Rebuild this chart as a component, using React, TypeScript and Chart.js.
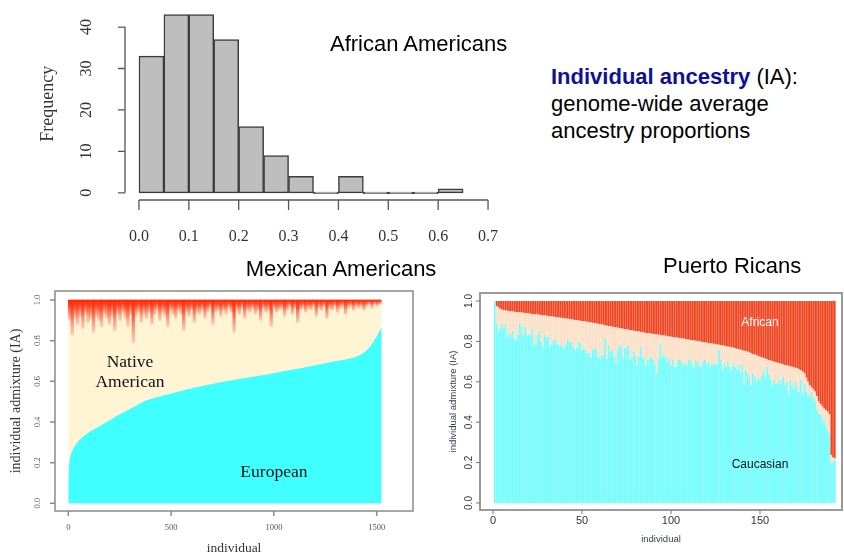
import React, { useEffect, useRef } from 'react';
import { Chart, registerables } from 'chart.js';

Chart.register(...registerables);

const SANS = '"Liberation Sans", Arial, sans-serif';
const SERIF = '"Liberation Serif", "Times New Roman", serif';

// ---------- African Americans histogram ----------
const histBinStarts = [0, 0.05, 0.1, 0.15, 0.2, 0.25, 0.3, 0.35, 0.4, 0.45, 0.5, 0.55, 0.6];
const histBinWidth = 0.05;
const histCounts = [33, 43, 43, 37, 16, 9, 4, 0, 4, 0, 0, 0, 1];
const histXTicks = [0, 0.1, 0.2, 0.3, 0.4, 0.5, 0.6, 0.7];
const histXTickLabels = ['0.0', '0.1', '0.2', '0.3', '0.4', '0.5', '0.6', '0.7'];
const histYTicks = [0, 10, 20, 30, 40];

// ---------- Mexican Americans ----------
const mxEuropeanIndividual = [0, 2, 5, 10, 18, 41, 73, 105, 154, 203, 251, 316, 365, 430, 511, 640, 802, 965, 1127, 1289, 1419, 1460, 1484, 1508, 1524];
const mxEuropeanShare = [0.1, 0.16, 0.2, 0.23, 0.255, 0.295, 0.328, 0.352, 0.38, 0.41, 0.438, 0.472, 0.5, 0.522, 0.543, 0.574, 0.606, 0.634, 0.664, 0.697, 0.73, 0.762, 0.795, 0.836, 0.869];
const mxLastIndividual = 1524;
const mxAfricanStep = 12.9;
const mxAfricanShare = [
  0.1, 0.17, 0.09, 0.12, 0.08, 0.14, 0.07, 0.11, 0.09, 0.16,
  0.08, 0.1, 0.13, 0.07, 0.09, 0.12, 0.08, 0.15, 0.07, 0.1,
  0.06, 0.09, 0.13, 0.07, 0.21, 0.08, 0.06, 0.11, 0.07, 0.09,
  0.06, 0.12, 0.07, 0.05, 0.1, 0.06, 0.08, 0.13, 0.05, 0.07,
  0.09, 0.05, 0.07, 0.15, 0.06, 0.08, 0.05, 0.11, 0.06, 0.07,
  0.05, 0.09, 0.06, 0.04, 0.12, 0.06, 0.05, 0.08, 0.05, 0.07,
  0.04, 0.06, 0.16, 0.05, 0.07, 0.04, 0.09, 0.05, 0.06, 0.04,
  0.07, 0.05, 0.1, 0.04, 0.06, 0.05, 0.13, 0.04, 0.06, 0.05,
  0.04, 0.08, 0.05, 0.03, 0.07, 0.04, 0.11, 0.05, 0.04, 0.06,
  0.04, 0.05, 0.03, 0.08, 0.04, 0.05, 0.03, 0.09, 0.04, 0.05,
  0.03, 0.06, 0.04, 0.03, 0.07, 0.04, 0.03, 0.05, 0.03, 0.04,
  0.03, 0.05, 0.03, 0.02, 0.04, 0.02, 0.03, 0.02,
];
const mxXTicks = [0, 500, 1000, 1500];

const admixYTicks = [0, 0.2, 0.4, 0.6, 0.8, 1.0];
const admixYTickLabels = ['0.0', '0.2', '0.4', '0.6', '0.8', '1.0'];

// ---------- Puerto Ricans ----------
const prCaucasian = [
  1.0, 0.889, 0.848, 0.864, 0.881, 0.864, 0.889, 0.823, 0.84, 0.832,
  0.851, 0.815, 0.807, 0.832, 0.889, 0.873, 0.832, 0.873, 0.832, 0.832,
  0.832, 0.864, 0.782, 0.79, 0.832, 0.848, 0.799, 0.774, 0.832, 0.823,
  0.823, 0.774, 0.79, 0.807, 0.807, 0.79, 0.782, 0.782, 0.774, 0.766,
  0.782, 0.807, 0.799, 0.799, 0.774, 0.757, 0.766, 0.799, 0.79, 0.757,
  0.766, 0.757, 0.741, 0.741, 0.724, 0.757, 0.766, 0.766, 0.724, 0.716,
  0.732, 0.732, 0.815, 0.716,
  0.782, 0.749, 0.757, 0.724, 0.69, 0.757, 0.782, 0.774, 0.724, 0.766,
  0.774, 0.782, 0.708, 0.724, 0.749, 0.732, 0.683, 0.724, 0.774, 0.724,
  0.716, 0.675, 0.708, 0.716, 0.724, 0.708, 0.683, 0.642, 0.716, 0.79,
  0.724, 0.732, 0.724, 0.7, 0.716, 0.683, 0.708, 0.675, 0.675, 0.708,
  0.708, 0.7, 0.683, 0.691, 0.683, 0.708, 0.708, 0.683, 0.667, 0.708,
  0.7, 0.683, 0.675, 0.7, 0.708, 0.683, 0.7, 0.675, 0.691, 0.691,
  0.683, 0.691,
  0.757, 0.708, 0.658, 0.691, 0.675, 0.7, 0.675, 0.658, 0.691, 0.675,
  0.658, 0.683, 0.65, 0.683, 0.592, 0.658, 0.642, 0.625, 0.584, 0.642,
  0.625, 0.601, 0.617, 0.609, 0.634, 0.658, 0.625, 0.675, 0.634, 0.609,
  0.584, 0.609, 0.592, 0.592, 0.609, 0.592, 0.625, 0.584, 0.601, 0.543,
  0.609, 0.584, 0.568, 0.601, 0.576, 0.551, 0.609, 0.543, 0.592, 0.551,
  0.535, 0.526, 0.551, 0.518, 0.502, 0.46, 0.444, 0.436, 0.419, 0.403,
  0.386, 0.36, 0.34, 0.2, 0.205, 0.21,
];
// Caucasian + Native American (i.e. 1 - African)
const prNonAfrican = [
  1.0, 0.975, 0.968, 0.962, 0.958, 0.955, 0.953, 0.952, 0.95, 0.949,
  0.948, 0.947, 0.946, 0.945, 0.944, 0.943, 0.942, 0.941, 0.94, 0.938,
  0.937, 0.936, 0.935, 0.934, 0.933, 0.932, 0.931, 0.93, 0.929, 0.927,
  0.926, 0.925, 0.924, 0.922, 0.921, 0.92, 0.918, 0.917, 0.916, 0.914,
  0.913, 0.912, 0.91, 0.909, 0.908, 0.906, 0.905, 0.904, 0.902, 0.901,
  0.9, 0.898, 0.897, 0.895, 0.894, 0.892, 0.891, 0.889, 0.887, 0.885,
  0.884, 0.882, 0.88, 0.878, 0.876, 0.875, 0.873, 0.871, 0.87, 0.868,
  0.866, 0.865, 0.863, 0.861, 0.86, 0.858, 0.856, 0.855, 0.853, 0.851,
  0.85, 0.849, 0.847, 0.845, 0.844, 0.842, 0.841, 0.84, 0.838, 0.837,
  0.836, 0.834, 0.833, 0.832, 0.83, 0.829, 0.828, 0.826, 0.824, 0.823,
  0.822, 0.82, 0.819, 0.818, 0.816, 0.815, 0.814, 0.812, 0.81, 0.809,
  0.807, 0.806, 0.804, 0.803, 0.801, 0.8, 0.798, 0.797, 0.795, 0.794,
  0.792, 0.791, 0.789, 0.788, 0.786, 0.784, 0.783, 0.782, 0.78, 0.778,
  0.776, 0.774, 0.773, 0.771, 0.769, 0.766, 0.764, 0.762, 0.759, 0.757,
  0.754, 0.752, 0.749, 0.746, 0.741, 0.738, 0.735, 0.731, 0.728, 0.724,
  0.721, 0.718, 0.715, 0.712, 0.708, 0.705, 0.702, 0.699, 0.697, 0.694,
  0.692, 0.689, 0.686, 0.683, 0.681, 0.679, 0.677, 0.675, 0.672, 0.669,
  0.667, 0.662, 0.657, 0.65, 0.642, 0.62, 0.6, 0.584, 0.572, 0.562,
  0.551, 0.53, 0.502, 0.49, 0.478, 0.469, 0.46, 0.452, 0.44, 0.238,
  0.225, 0.221,
];
const prXTicks = [0, 50, 100, 150];

// ---------- helpers ----------
function rot(ctx: CanvasRenderingContext2D, text: string, x: number, y: number) {
  ctx.save();
  ctx.translate(x, y);
  ctx.rotate(-Math.PI / 2);
  ctx.fillText(text, 0, 0);
  ctx.restore();
}

const histAxes = {
  id: 'histAxes',
  afterDraw(chart: any) {
    const { ctx, chartArea: a, scales } = chart;
    const x = scales.x, y = scales.y;
    ctx.save();
    ctx.strokeStyle = '#555';
    ctx.lineWidth = 1.3;
    ctx.beginPath();
    ctx.moveTo(x.getPixelForValue(histXTicks[0]), a.bottom);
    ctx.lineTo(x.getPixelForValue(histXTicks[histXTicks.length - 1]), a.bottom);
    histXTicks.forEach((v) => {
      const px = x.getPixelForValue(v);
      ctx.moveTo(px, a.bottom);
      ctx.lineTo(px, a.bottom + 10);
    });
    ctx.moveTo(a.left, y.getPixelForValue(histYTicks[0]));
    ctx.lineTo(a.left, y.getPixelForValue(histYTicks[histYTicks.length - 1]));
    histYTicks.forEach((v) => {
      const py = y.getPixelForValue(v);
      ctx.moveTo(a.left, py);
      ctx.lineTo(a.left - 7, py);
    });
    ctx.stroke();
    ctx.fillStyle = '#333';
    ctx.font = `16px ${SERIF}`;
    ctx.textAlign = 'center';
    ctx.textBaseline = 'middle';
    histXTicks.forEach((v, i) => ctx.fillText(histXTickLabels[i], x.getPixelForValue(v), a.bottom + 37));
    histYTicks.forEach((v) => rot(ctx, String(v), a.left - 38, y.getPixelForValue(v)));
    ctx.font = `18px ${SERIF}`;
    rot(ctx, 'Frequency', a.left - 77, (a.top + a.bottom) / 2);
    ctx.restore();
  },
};

const mxAxes = {
  id: 'mxAxes',
  afterDraw(chart: any) {
    const { ctx, chartArea: a, scales } = chart;
    const x = scales.x, y = scales.y;
    ctx.save();
    ctx.strokeStyle = '#8a8a8a';
    ctx.lineWidth = 1.5;
    ctx.strokeRect(a.left, a.top, a.right - a.left, a.bottom - a.top);
    ctx.beginPath();
    admixYTicks.forEach((v) => {
      const py = y.getPixelForValue(v);
      ctx.moveTo(a.left, py);
      ctx.lineTo(a.left - 5, py);
    });
    mxXTicks.forEach((v) => {
      const px = x.getPixelForValue(v);
      ctx.moveTo(px, a.bottom);
      ctx.lineTo(px, a.bottom + 5);
    });
    ctx.stroke();
    ctx.fillStyle = '#555';
    ctx.font = `8.5px ${SERIF}`;
    ctx.textAlign = 'center';
    ctx.textBaseline = 'middle';
    admixYTicks.forEach((v, i) => rot(ctx, admixYTickLabels[i], a.left - 17, y.getPixelForValue(v)));
    mxXTicks.forEach((v) => ctx.fillText(String(v), x.getPixelForValue(v), a.bottom + 17));
    ctx.fillStyle = '#333';
    ctx.font = `13.5px ${SERIF}`;
    ctx.fillText('individual', (a.left + a.right) / 2, a.bottom + 37);
    ctx.font = `14px ${SERIF}`;
    rot(ctx, 'individual admixture (IA)', a.left - 39, (a.top + a.bottom) / 2);
    ctx.fillStyle = '#111';
    ctx.font = `17.5px ${SERIF}`;
    ctx.fillText('Native', x.getPixelForValue(300), y.getPixelForValue(0.695));
    ctx.fillText('American', x.getPixelForValue(300), y.getPixelForValue(0.597));
    ctx.fillText('European', x.getPixelForValue(1000), y.getPixelForValue(0.15));
    ctx.restore();
  },
};

const prAxes = {
  id: 'prAxes',
  afterDraw(chart: any) {
    const { ctx, chartArea: a, scales } = chart;
    const x = scales.x, y = scales.y;
    ctx.save();
    ctx.strokeStyle = '#9a9a9a';
    ctx.lineWidth = 2;
    ctx.strokeRect(a.left, a.top, a.right - a.left, a.bottom - a.top);
    ctx.lineWidth = 1;
    ctx.strokeStyle = '#777';
    ctx.beginPath();
    admixYTicks.forEach((v) => {
      const py = y.getPixelForValue(v);
      ctx.moveTo(a.left, py);
      ctx.lineTo(a.left - 4, py);
    });
    prXTicks.forEach((v) => {
      const px = x.getPixelForValue(v);
      ctx.moveTo(px, a.bottom);
      ctx.lineTo(px, a.bottom + 4);
    });
    ctx.stroke();
    ctx.fillStyle = '#333';
    ctx.font = `10px ${SANS}`;
    ctx.textAlign = 'center';
    ctx.textBaseline = 'middle';
    admixYTicks.forEach((v, i) => rot(ctx, admixYTickLabels[i], a.left - 11, y.getPixelForValue(v)));
    ctx.font = `11px ${SANS}`;
    prXTicks.forEach((v) => ctx.fillText(String(v), x.getPixelForValue(v), a.bottom + 11));
    ctx.fillStyle = '#333a55';
    ctx.font = `9.5px ${SANS}`;
    ctx.fillText('individual', (a.left + a.right) / 2, a.bottom + 29);
    rot(ctx, 'individual admixture (IA)', a.left - 27, (a.top + a.bottom) / 2);
    ctx.font = `12px ${SANS}`;
    ctx.fillStyle = '#ffffff';
    ctx.fillText('African', x.getPixelForValue(150), y.getPixelForValue(0.891));
    ctx.fillStyle = '#111';
    ctx.fillText('Caucasian', x.getPixelForValue(150), y.getPixelForValue(0.188));
    ctx.restore();
  },
};

function redGradient(c: any) {
  const chart = c.chart;
  if (!chart.chartArea || c.type !== 'data' || !c.raw) return '#ff3010';
  const y = chart.scales.y;
  const top = y.getPixelForValue(1);
  const bottom = y.getPixelForValue(c.raw.y[0]);
  if (!(bottom > top + 0.5)) return '#ff3010';
  const g = chart.ctx.createLinearGradient(0, top, 0, bottom);
  g.addColorStop(0, 'rgba(255,36,0,1)');
  g.addColorStop(0.35, 'rgba(255,60,30,0.88)');
  g.addColorStop(1, 'rgba(255,140,120,0.4)');
  return g;
}

export default function App() {
  const histRef = useRef<HTMLCanvasElement>(null);
  const mxRef = useRef<HTMLCanvasElement>(null);
  const prRef = useRef<HTMLCanvasElement>(null);

  useEffect(() => {
    const hist = new Chart(histRef.current!, {
      type: 'bar',
      data: {
        datasets: [
          {
            label: 'Frequency',
            data: histBinStarts.map((s, i) => ({ x: s + histBinWidth / 2, y: histCounts[i] })),
            backgroundColor: '#bebebe',
            borderColor: '#3c3c3c',
            borderWidth: 1.5,
            borderSkipped: false,
            barPercentage: 1,
            categoryPercentage: 1,
            minBarLength: 1.5,
          } as any,
        ],
      },
      options: {
        responsive: false,
        animation: false,
        layout: { padding: { left: 125, right: 18, top: 7.5, bottom: 50 } },
        scales: {
          x: { type: 'linear', display: false, min: -0.028, max: 0.728, offset: false, grid: { offset: false } } as any,
          y: { display: false, min: -1.72, max: 44.72 },
        },
        plugins: { legend: { display: false }, tooltip: { enabled: false } },
      },
      plugins: [histAxes],
    });

    const mx = new Chart(mxRef.current!, {
      type: 'bar',
      data: {
        datasets: [
          {
            type: 'line',
            label: 'European',
            data: mxEuropeanIndividual.map((xv, i) => ({ x: xv, y: mxEuropeanShare[i] })),
            fill: 'origin',
            backgroundColor: '#40ffff',
            borderColor: 'rgba(0,0,0,0)',
            borderWidth: 0,
            pointRadius: 0,
            cubicInterpolationMode: 'monotone',
            order: 0,
          },
          {
            type: 'bar',
            label: 'African',
            data: mxAfricanShare.map((d, i) => ({ x: mxAfricanStep * (i + 0.5), y: [1 - d, 1] })),
            backgroundColor: redGradient,
            barPercentage: 1,
            categoryPercentage: 1,
            grouped: false,
            order: 1,
          },
          {
            type: 'line',
            label: 'Native American',
            data: [
              { x: 0, y: 1 },
              { x: mxLastIndividual, y: 1 },
            ],
            fill: 'origin',
            backgroundColor: '#fff5d4',
            borderColor: 'rgba(0,0,0,0)',
            borderWidth: 0,
            pointRadius: 0,
            order: 2,
          },
        ] as any,
      },
      options: {
        responsive: false,
        animation: false,
        layout: { padding: { left: 55, right: 7, top: 11, bottom: 44 } },
        scales: {
          x: { type: 'linear', display: false, min: -64.7, max: 1676.6, offset: false, grid: { offset: false } } as any,
          y: { display: false, min: -0.0379, max: 1.0443 },
        },
        plugins: { legend: { display: false }, tooltip: { enabled: false } },
      },
      plugins: [mxAxes],
    });

    const prBar = { barPercentage: 0.93, categoryPercentage: 1, grouped: false };
    const pr = new Chart(prRef.current!, {
      type: 'bar',
      data: {
        datasets: [
          {
            label: 'Caucasian',
            data: prCaucasian.map((c, i) => ({ x: i + 1, y: [0, c] })),
            backgroundColor: '#6fffff',
            ...prBar,
          },
          {
            label: 'Native American',
            data: prCaucasian.map((c, i) => ({ x: i + 1, y: [c, prNonAfrican[i]] })),
            backgroundColor: '#fddfc6',
            ...prBar,
          },
          {
            label: 'African',
            data: prNonAfrican.map((t, i) => ({ x: i + 1, y: [t, 1] })),
            backgroundColor: '#f2421e',
            ...prBar,
          },
        ] as any,
      },
      options: {
        responsive: false,
        animation: false,
        layout: { padding: { left: 40, right: 2, top: 13, bottom: 45 } },
        scales: {
          x: { type: 'linear', display: false, min: -7.3, max: 196.07, offset: false, grid: { offset: false } } as any,
          y: { display: false, min: -0.0347, max: 1.0396 },
        },
        plugins: { legend: { display: false }, tooltip: { enabled: false } },
      },
      plugins: [prAxes],
    });

    return () => {
      hist.destroy();
      mx.destroy();
      pr.destroy();
    };
  }, []);

  const sans22: React.CSSProperties = {
    position: 'absolute',
    fontFamily: SANS,
    fontSize: 22,
    lineHeight: '27px',
    color: '#000',
    whiteSpace: 'nowrap',
    margin: 0,
  };

  return (
    <div style={{ position: 'absolute', left: 0, top: 0, width: 844, height: 555, background: '#fff', overflow: 'hidden' }}>
      <canvas ref={histRef} width={520} height={250} style={{ position: 'absolute', left: 0, top: 0 }} />
      <canvas ref={mxRef} width={420} height={275} style={{ position: 'absolute', left: 0, top: 280 }} />
      <canvas ref={prRef} width={404} height={275} style={{ position: 'absolute', left: 440, top: 280 }} />
      <div style={{ ...sans22, left: 330, top: 30 }}>African Americans</div>
      <div style={{ ...sans22, left: 551, top: 63 }}>
        <span style={{ fontWeight: 'bold', color: '#10109a' }}>Individual ancestry</span> (IA):
        <br />
        genome-wide average
        <br />
        ancestry proportions
      </div>
      <div style={{ ...sans22, left: 241, width: 200, textAlign: 'center', top: 255 }}>Mexican Americans</div>
      <div style={{ ...sans22, left: 663, top: 252 }}>Puerto Ricans</div>
    </div>
  );
}
